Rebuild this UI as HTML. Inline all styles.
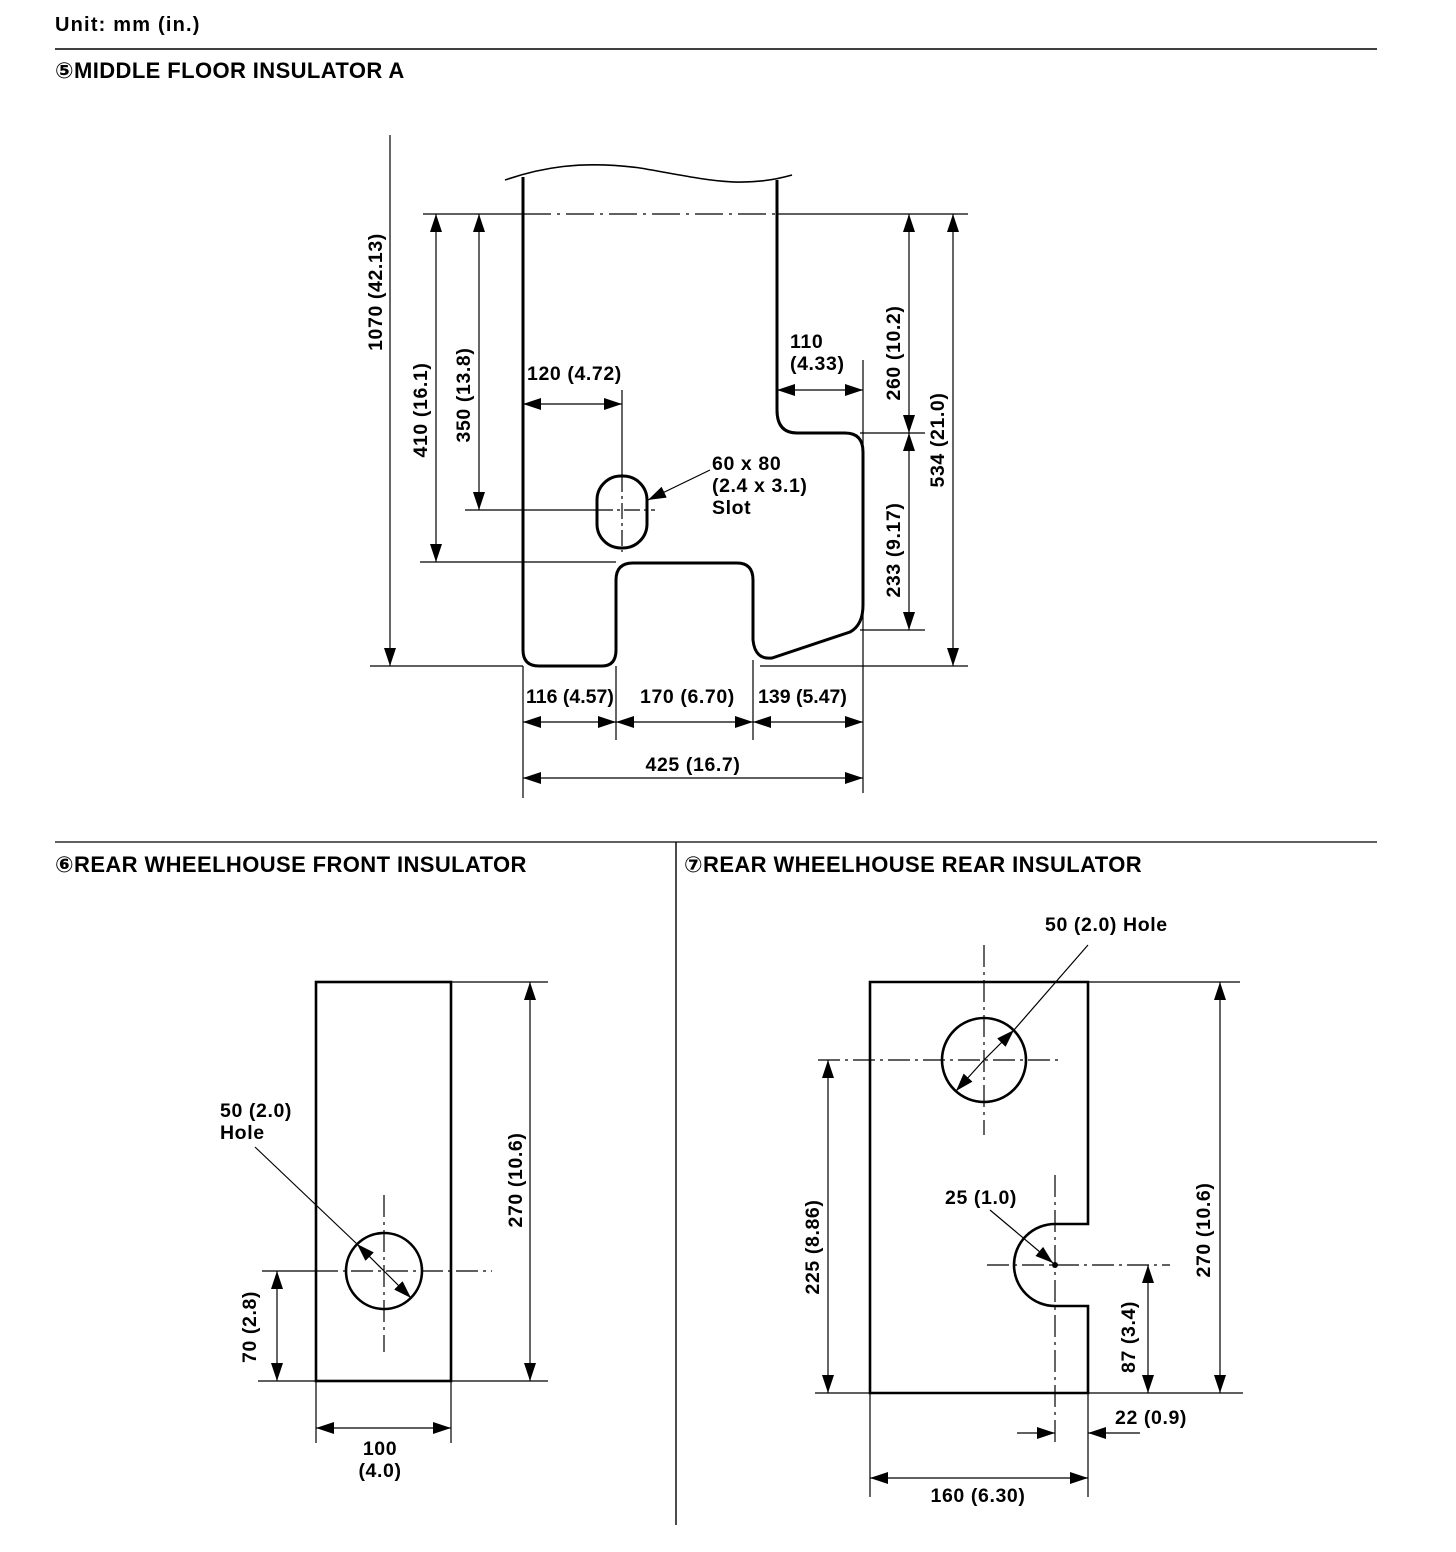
<!DOCTYPE html>
<html><head><meta charset="utf-8"><style>
html,body{margin:0;padding:0;background:#fff;}
svg{display:block;}
text{font-family:"Liberation Sans","DejaVu Sans",sans-serif;font-weight:bold;fill:#000;}
.t{font-size:19.5px;letter-spacing:0.6px;}
.h{font-size:22px;letter-spacing:0.4px;}
</style></head><body>
<svg width="1456" height="1552" viewBox="0 0 1456 1552" xmlns="http://www.w3.org/2000/svg">
<defs>
<marker id="a" markerUnits="userSpaceOnUse" markerWidth="18" markerHeight="12" refX="18" refY="6" orient="auto-start-reverse">
<path d="M0,0 L18,6 L0,12 z" fill="#000"/></marker>
</defs>
<g stroke="#000" fill="none">
<line x1="55" y1="49" x2="1377" y2="49" stroke-width="1.6"/>
<line x1="55" y1="842" x2="1377" y2="842" stroke-width="1.2"/>
<line x1="676" y1="842" x2="676" y2="1525" stroke-width="1.4"/>

<path d="M523,177 V650 Q523,666 539,666 H602 Q616,666 616,650 V580 Q616,563 633,563 H737 Q753,563 753,580 V640 Q755,660 772,658 L850,632 Q863,625 863,605 V452 Q863,433 845,433 H797 Q777,433 777,410 V180" stroke-width="3"/>
<path d="M505,180 C540,168 580,160 640,168 C700,178 740,190 792,175" stroke-width="1.6"/>
<rect x="597" y="476" width="50" height="72" rx="24" stroke-width="3"/>
<g stroke-width="1.2">
<line x1="423" y1="214" x2="523" y2="214"/>
<line x1="523" y1="214" x2="777" y2="214" stroke-dasharray="28,6,3,6"/>
<line x1="777" y1="214" x2="968" y2="214"/>
<line x1="370" y1="666" x2="523" y2="666"/>
<line x1="760" y1="666" x2="968" y2="666"/>
<line x1="420" y1="562" x2="616" y2="562"/>
<line x1="465" y1="510" x2="597" y2="510"/>
<line x1="597" y1="510" x2="655" y2="510" stroke-dasharray="16,4,3,4"/>
<line x1="860" y1="433" x2="925" y2="433"/>
<line x1="860" y1="630" x2="925" y2="630"/>
<line x1="622" y1="390" x2="622" y2="476"/>
<line x1="622" y1="476" x2="622" y2="552" stroke-dasharray="16,4,3,4"/>
<line x1="523" y1="666" x2="523" y2="798"/>
<line x1="616" y1="666" x2="616" y2="740"/>
<line x1="753" y1="660" x2="753" y2="740"/>
<line x1="863" y1="360" x2="863" y2="793"/>
<line x1="390" y1="135" x2="390" y2="666" marker-end="url(#a)"/>
<line x1="436" y1="214" x2="436" y2="562" marker-start="url(#a)" marker-end="url(#a)"/>
<line x1="479" y1="214" x2="479" y2="510" marker-start="url(#a)" marker-end="url(#a)"/>
<line x1="909" y1="214" x2="909" y2="433" marker-start="url(#a)" marker-end="url(#a)"/>
<line x1="909" y1="433" x2="909" y2="630" marker-start="url(#a)" marker-end="url(#a)"/>
<line x1="953" y1="214" x2="953" y2="666" marker-start="url(#a)" marker-end="url(#a)"/>
<line x1="523" y1="404" x2="622" y2="404" marker-start="url(#a)" marker-end="url(#a)"/>
<line x1="777" y1="390" x2="863" y2="390" marker-start="url(#a)" marker-end="url(#a)"/>
<line x1="523" y1="722" x2="616" y2="722" marker-start="url(#a)" marker-end="url(#a)"/>
<line x1="616" y1="722" x2="753" y2="722" marker-start="url(#a)" marker-end="url(#a)"/>
<line x1="753" y1="722" x2="863" y2="722" marker-start="url(#a)" marker-end="url(#a)"/>
<line x1="523" y1="778" x2="863" y2="778" marker-start="url(#a)" marker-end="url(#a)"/>
<line x1="710" y1="470" x2="648" y2="500" marker-end="url(#a)"/>
</g>

<rect x="316" y="982" width="135" height="399" stroke-width="2.6"/>
<circle cx="384" cy="1271" r="38" stroke-width="2.6"/>
<g stroke-width="1.2">
<line x1="384" y1="1195" x2="384" y2="1352" stroke-dasharray="22,5,3,5"/>
<line x1="262" y1="1271" x2="316" y2="1271"/>
<line x1="316" y1="1271" x2="492" y2="1271" stroke-dasharray="22,5,3,5"/>
<line x1="451" y1="982" x2="548" y2="982"/>
<line x1="258" y1="1381" x2="548" y2="1381"/>
<line x1="530" y1="982" x2="530" y2="1381" marker-start="url(#a)" marker-end="url(#a)"/>
<line x1="277" y1="1271" x2="277" y2="1381" marker-start="url(#a)" marker-end="url(#a)"/>
<line x1="316" y1="1381" x2="316" y2="1443"/>
<line x1="451" y1="1381" x2="451" y2="1443"/>
<line x1="316" y1="1428" x2="451" y2="1428" marker-start="url(#a)" marker-end="url(#a)"/>
<line x1="255" y1="1147" x2="357" y2="1244"/>
<line x1="384" y1="1271" x2="357" y2="1244" marker-end="url(#a)"/>
<line x1="384" y1="1271" x2="411" y2="1298" marker-end="url(#a)"/>
</g>

<path d="M870,982 H1088 V1224 H1055 A41,41 0 0 0 1055,1306 H1088 V1393 H870 Z" stroke-width="2.6"/>
<circle cx="984" cy="1060" r="42" stroke-width="2.6"/>
<circle cx="1055" cy="1265" r="3" fill="#000" stroke="none"/>
<g stroke-width="1.2">
<line x1="984" y1="945" x2="984" y2="1135" stroke-dasharray="22,5,3,5"/>
<line x1="818" y1="1060" x2="1062" y2="1060" stroke-dasharray="22,5,3,5"/>
<line x1="1055" y1="1175" x2="1055" y2="1442" stroke-dasharray="22,5,3,5"/>
<line x1="987" y1="1265" x2="1170" y2="1265" stroke-dasharray="22,5,3,5"/>
<line x1="1088" y1="982" x2="1240" y2="982"/>
<line x1="815" y1="1393" x2="1243" y2="1393"/>
<line x1="1220" y1="982" x2="1220" y2="1393" marker-start="url(#a)" marker-end="url(#a)"/>
<line x1="828" y1="1060" x2="828" y2="1393" marker-start="url(#a)" marker-end="url(#a)"/>
<line x1="1148" y1="1265" x2="1148" y2="1393" marker-start="url(#a)" marker-end="url(#a)"/>
<line x1="1088" y1="1393" x2="1088" y2="1497"/>
<line x1="870" y1="1393" x2="870" y2="1497"/>
<line x1="1017" y1="1433" x2="1055" y2="1433" marker-end="url(#a)"/>
<line x1="1140" y1="1433" x2="1088" y2="1433" marker-end="url(#a)"/>
<line x1="870" y1="1478" x2="1088" y2="1478" marker-start="url(#a)" marker-end="url(#a)"/>
<line x1="1088" y1="945" x2="1014" y2="1030"/>
<line x1="984" y1="1060" x2="1014" y2="1030" marker-end="url(#a)"/>
<line x1="984" y1="1060" x2="956" y2="1091" marker-end="url(#a)"/>
<line x1="990" y1="1210" x2="1053" y2="1263" marker-end="url(#a)"/>
</g>
</g>

<text x="55" y="31" class="t" style="font-size:20px;letter-spacing:1.2px">Unit: mm (in.)</text>
<text x="55" y="78" class="h">⑤MIDDLE FLOOR INSULATOR A</text>
<text x="55" y="872" class="h">⑥REAR WHEELHOUSE FRONT INSULATOR</text>
<text x="684" y="872" class="h">⑦REAR WHEELHOUSE REAR INSULATOR</text>

<text class="t" transform="translate(382,292) rotate(-90)" text-anchor="middle">1070 (42.13)</text>
<text class="t" transform="translate(427,410) rotate(-90)" text-anchor="middle">410 (16.1)</text>
<text class="t" transform="translate(470,395) rotate(-90)" text-anchor="middle">350 (13.8)</text>
<text class="t" transform="translate(900,353) rotate(-90)" text-anchor="middle">260 (10.2)</text>
<text class="t" transform="translate(900,550) rotate(-90)" text-anchor="middle">233 (9.17)</text>
<text class="t" transform="translate(944,440) rotate(-90)" text-anchor="middle">534 (21.0)</text>
<text class="t" x="527" y="380">120 (4.72)</text>
<text class="t" x="790" y="348">110</text>
<text class="t" x="790" y="370">(4.33)</text>
<text class="t" x="712" y="470">60 x 80</text>
<text class="t" x="712" y="492">(2.4 x 3.1)</text>
<text class="t" x="712" y="514">Slot</text>
<text class="t" x="526" y="703" style="letter-spacing:0">116 (4.57)</text>
<text class="t" x="640" y="703">170 (6.70)</text>
<text class="t" x="758" y="703" style="letter-spacing:0">139 (5.47)</text>
<text class="t" x="693" y="771" text-anchor="middle">425 (16.7)</text>

<text class="t" x="220" y="1117">50 (2.0)</text>
<text class="t" x="220" y="1139">Hole</text>
<text class="t" transform="translate(522,1180) rotate(-90)" text-anchor="middle">270 (10.6)</text>
<text class="t" transform="translate(256,1327) rotate(-90)" text-anchor="middle">70 (2.8)</text>
<text class="t" x="380" y="1455" text-anchor="middle">100</text>
<text class="t" x="380" y="1477" text-anchor="middle">(4.0)</text>

<text class="t" x="1045" y="931">50 (2.0) Hole</text>
<text class="t" x="945" y="1204">25 (1.0)</text>
<text class="t" transform="translate(1210,1230) rotate(-90)" text-anchor="middle">270 (10.6)</text>
<text class="t" transform="translate(819,1247) rotate(-90)" text-anchor="middle">225 (8.86)</text>
<text class="t" transform="translate(1135,1337) rotate(-90)" text-anchor="middle">87 (3.4)</text>
<text class="t" x="1115" y="1424">22 (0.9)</text>
<text class="t" x="978" y="1502" text-anchor="middle">160 (6.30)</text>
</svg>
</body></html>
